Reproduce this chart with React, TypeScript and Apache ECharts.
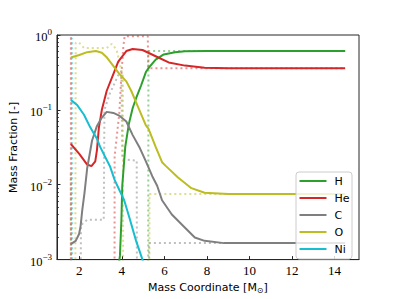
import React, { useEffect, useRef } from "react";
import * as echarts from "echarts";

// Solid (final) profiles: [mass coordinate, mass fraction]
const H_final: number[][] = [
  [3.84, 0.0008], [3.91, 0.00112], [3.98, 0.0034], [4.02, 0.0097], [4.16, 0.032],
  [4.33, 0.065], [4.51, 0.106], [4.67, 0.143], [4.9, 0.21], [5.13, 0.32], [5.28, 0.37],
  [5.59, 0.47], [5.97, 0.55], [6.5, 0.59], [6.97, 0.605], [8.0, 0.61], [14.5, 0.61],
];
const He_final: number[][] = [
  [1.6, 0.035], [1.99, 0.026], [2.37, 0.0186], [2.57, 0.0177], [2.75, 0.0205],
  [2.83, 0.029], [2.92, 0.058], [3.06, 0.1], [3.29, 0.18], [3.6, 0.3], [3.83, 0.44],
  [4.21, 0.61], [4.51, 0.65], [4.97, 0.63], [5.59, 0.52], [6.2, 0.43], [6.97, 0.39],
  [7.89, 0.365], [9.0, 0.36], [14.5, 0.36],
];
const C_final: number[][] = [
  [1.6, 0.00161], [1.83, 0.00178], [1.99, 0.0022], [2.06, 0.0028], [2.14, 0.0046],
  [2.24, 0.0076], [2.37, 0.0166], [2.6, 0.039], [2.83, 0.061], [3.06, 0.079],
  [3.29, 0.094], [3.6, 0.091], [3.9, 0.083], [4.21, 0.07], [4.51, 0.046], [4.82, 0.032],
  [5.13, 0.0205], [5.43, 0.013], [5.66, 0.0097], [5.89, 0.0062], [6.35, 0.004],
  [6.97, 0.00266], [7.43, 0.00197], [7.89, 0.00178], [8.8, 0.00166], [14.5, 0.00166],
];
const O_final: number[][] = [
  [1.6, 0.5], [2.0, 0.54], [2.37, 0.59], [2.78, 0.61], [3.06, 0.58], [3.3, 0.5],
  [3.56, 0.4], [3.89, 0.3], [4.21, 0.24], [4.44, 0.18], [4.76, 0.11], [5.13, 0.062],
  [5.25, 0.056], [5.59, 0.032], [5.89, 0.02], [6.05, 0.018], [6.64, 0.0125],
  [7.27, 0.009], [7.89, 0.0078], [9.0, 0.0075], [14.5, 0.0075],
];
const Ni_final: number[][] = [
  [1.6, 0.136], [1.91, 0.115], [2.22, 0.086], [2.52, 0.058], [2.83, 0.041],
  [2.98, 0.032], [3.2, 0.024], [3.44, 0.0177], [3.66, 0.0116], [3.9, 0.0083],
  [4.11, 0.0062], [4.36, 0.0036], [4.67, 0.00178], [4.97, 0.001], [5.1, 0.0007],
];

// Dotted (initial) profiles
const H_init: number[][] = [
  [1.6, 0.014], [1.62, 1e-6], [5.23, 1e-6], [5.25, 0.61], [14.5, 0.61],
];
const He_init: number[][] = [
  [1.6, 1e-6], [1.605, 0.97], [1.62, 0.97], [1.63, 1e-6], [3.65, 1e-6],
  [3.66, 0.024], [3.88, 0.09], [3.98, 0.3], [4.07, 0.7], [4.13, 0.96],
  [5.22, 0.96], [5.24, 0.36], [14.5, 0.36],
];
const C_init: number[][] = [
  [1.99, 1e-6], [2.08, 0.0029], [2.37, 0.0034], [3.15, 0.0034], [3.18, 0.1],
  [3.44, 0.166], [3.83, 0.29], [3.98, 0.33], [4.02, 0.022], [4.7, 0.021],
  [4.72, 1e-6], [5.26, 1e-6], [5.28, 0.00166], [14.5, 0.00166],
];
const O_init: number[][] = [
  [1.8, 1e-6], [1.83, 0.79], [1.99, 0.79], [2.22, 0.67], [3.29, 0.67], [3.52, 0.76],
  [3.75, 0.64], [3.98, 0.33], [4.05, 0.3], [4.07, 1e-6], [5.28, 1e-6], [5.3, 0.0075],
  [14.5, 0.0075],
];
const Ni_init: number[][] = [
  [1.6, 0.9], [1.66, 0.9], [1.67, 1e-6],
];

const names = ["H", "He", "C", "O", "Ni"];
const colors = ["#2ca02c", "#d62728", "#7f7f7f", "#bcbd22", "#17becf"];
const finals = [H_final, He_final, C_final, O_final, Ni_final];
const inits = [H_init, He_init, C_init, O_init, Ni_init];

const xTicks = [2, 4, 6, 8, 10, 12, 14];
const yMajor = [0.001, 0.01, 0.1, 1];
const yMinor: number[] = [];
[0.001, 0.01, 0.1].forEach((d) => {
  for (let k = 2; k <= 9; k++) yMinor.push(+(d * k).toPrecision(3));
});

export default function App() {
  const ref = useRef<HTMLDivElement>(null);
  useEffect(() => {
    if (!ref.current) return;
    const chart = echarts.init(ref.current, null, { renderer: "svg" });
    const dotted = inits.map((d, i) => ({
      name: names[i] + "_init",
      type: "line",
      data: d,
      showSymbol: false,
      symbol: "none",
      clip: true,
      lineStyle: { color: colors[i], width: 2, type: [2, 3], opacity: 0.5 },
      z: 2,
    }));
    const solid = finals.map((d, i) => ({
      name: names[i],
      type: "line",
      data: d,
      showSymbol: false,
      symbol: "none",
      clip: true,
      color: colors[i],
      lineStyle: { color: colors[i], width: 2 },
      z: 3,
    }));

    // Legend drawn as graphic elements (box, line samples, labels)
    const lgX = 296, lgY = 172, rowH = 17;
    const legendEls: any[] = [
      {
        type: "rect",
        shape: { x: lgX, y: lgY, width: 56, height: 87, r: 3 },
        style: { fill: "rgba(255,255,255,0.8)", stroke: "#cccccc", lineWidth: 1 },
        z: 10,
      },
    ];
    names.forEach((n, i) => {
      const cy = lgY + 9 + rowH * i;
      legendEls.push({
        type: "line",
        shape: { x1: lgX + 3.5, y1: cy, x2: lgX + 30.5, y2: cy },
        style: { stroke: colors[i], lineWidth: 2 },
        z: 11,
      });
      legendEls.push({
        type: "text",
        x: lgX + 38.5,
        y: cy,
        style: { text: n, fontFamily: "DejaVu Sans", fontSize: 11, fill: "#000", verticalAlign: "middle", align: "left" },
        z: 11,
      });
    });

    chart.setOption({
      animation: false,
      backgroundColor: "#fff",
      grid: {
        left: 49, top: 35, right: 40, bottom: 33,
        show: true, borderColor: "#262626", borderWidth: 1, backgroundColor: "transparent",
      },
      xAxis: {
        type: "value",
        min: 0.95,
        max: 15.15,
        name: "Mass Coordinate [M{sub|⊙}]",
        nameLocation: "middle",
        nameGap: 18,
        nameTextStyle: {
          fontFamily: "DejaVu Sans", fontSize: 11, color: "#000",
          rich: { sub: { fontFamily: "DejaVu Sans", fontSize: 8, color: "#000", padding: [6, 0, 0, 0] } },
        },
        axisLine: { show: true, lineStyle: { color: "#262626", width: 1 } },
        axisTick: { show: true, inside: true, length: 3.5, customValues: xTicks, lineStyle: { color: "#262626" } },
        axisLabel: {
          customValues: xTicks, margin: 4, fontFamily: "Liberation Serif", fontSize: 13, color: "#000",
        },
        splitLine: { show: false },
      },
      yAxis: [
        {
          type: "log",
          logBase: 10,
          min: 0.001,
          max: 1,
          name: "Mass Fraction [-]",
          nameLocation: "middle",
          nameRotate: 90,
          nameGap: 32,
          nameTextStyle: { fontFamily: "DejaVu Sans", fontSize: 11, color: "#000" },
          axisLine: { show: true, lineStyle: { color: "#262626", width: 1 } },
          axisTick: { show: true, inside: true, length: 3.5, customValues: yMajor, lineStyle: { color: "#262626" } },
          axisLabel: {
            customValues: yMajor,
            margin: 5,
            formatter: (v: number) => {
              const e = Math.round(Math.log10(v));
              return "{b|10}{s|" + (e === 0 ? "0" : "\u2212" + -e) + "}";
            },
            rich: {
              b: { fontFamily: "Liberation Serif", fontSize: 12.5, color: "#000", padding: [4, 0, 0, 0] },
              s: { fontFamily: "Liberation Serif", fontSize: 9, color: "#000", padding: [0, 0, 6, 0] },
            },
          },
          splitLine: { show: false },
        },
        {
          type: "log",
          logBase: 10,
          min: 0.001,
          max: 1,
          position: "left",
          axisLine: { show: false },
          axisTick: { show: true, inside: true, length: 2, customValues: yMinor, lineStyle: { color: "#262626", width: 0.8 } },
          axisLabel: { show: false },
          splitLine: { show: false },
        },
      ],
      graphic: legendEls,
      series: [...dotted, ...solid],
    });
    return () => chart.dispose();
  }, []);
  return (
    <div
      ref={ref}
      style={{ position: "fixed", left: 0, top: 0, width: 399, height: 299 }}
    />
  );
}
